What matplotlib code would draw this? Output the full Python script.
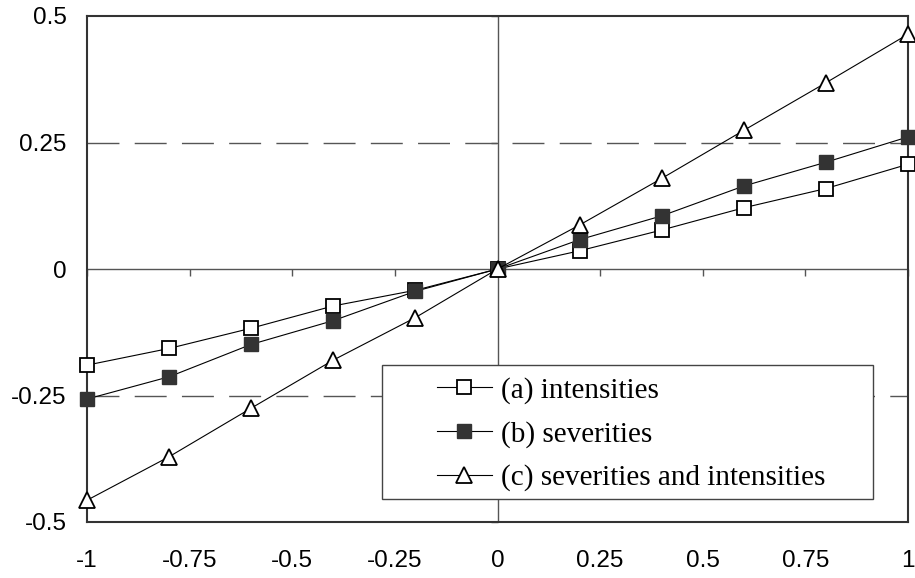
import matplotlib.pyplot as plt
from matplotlib.patches import Rectangle
import numpy as np

plt.rcParams['axes.unicode_minus'] = False

x = [-1, -0.8, -0.6, -0.4, -0.2, 0, 0.2, 0.4, 0.6, 0.8, 1]
intensities = [-0.190, -0.157, -0.117, -0.073, -0.042, 0, 0.036, 0.077, 0.121, 0.159, 0.207]
severities = [-0.257, -0.213, -0.149, -0.102, -0.044, 0, 0.058, 0.105, 0.164, 0.211, 0.261]
both = [-0.457, -0.371, -0.275, -0.180, -0.096, 0, 0.087, 0.179, 0.274, 0.368, 0.464]
labels = ["(a) intensities", "(b) severities", "(c) severities and intensities"]

xticks = [-1, -0.75, -0.5, -0.25, 0, 0.25, 0.5, 0.75, 1]
xtick_labels = ['-1', '-0.75', '-0.5', '-0.25', '0', '0.25', '0.5', '0.75', '1']
yticks = [-0.5, -0.25, 0, 0.25, 0.5]
ytick_labels = ['-0.5', '-0.25', '0', '0.25', '0.5']

fig = plt.figure(figsize=(9.15, 5.78), dpi=100)
ax = fig.add_axes([87/915, 1-522/578, 821/915, 506/578])

ax.set_xlim(-1, 1)
ax.set_ylim(-0.5, 0.5)

# dashed lines at +-0.25, solid axis lines through zero
for yv in [0.25, -0.25]:
    ax.axhline(yv, color='#555555', lw=1, dashes=(23, 11), zorder=1)
ax.axhline(0, color='#555555', lw=1, zorder=1)
ax.axvline(0, color='#555555', lw=1, zorder=1)
# small tick marks on the zero lines
ax.plot(xticks, np.zeros(len(xticks)), ls='none', marker=3, ms=5,
        mew=1, color='#555555', zorder=1, clip_on=False)
ax.plot(np.zeros(len(yticks)), yticks, ls='none', marker=0, ms=5,
        mew=1, color='#555555', zorder=1, clip_on=False)

ax.plot(x, intensities, color='black', lw=0.8, marker='s', ms=9.5,
        mfc='white', mec='black', mew=1.3, label=labels[0], zorder=3, clip_on=False)
ax.plot(x, severities, color='black', lw=0.8, marker='s', ms=10,
        mfc='#333333', mec='#333333', mew=1, label=labels[1], zorder=4, clip_on=False)
ax.plot(x, both, color='black', lw=0.8, marker='^', ms=11,
        mfc='white', mec='black', mew=1.3, label=labels[2], zorder=5, clip_on=False)

ax.set_xticks(xticks)
ax.set_xticklabels(xtick_labels, family='Liberation Sans', fontsize=17.5)
ax.set_yticks(yticks)
ax.set_yticklabels(ytick_labels, family='Liberation Sans', fontsize=17.5)
ax.tick_params(axis='x', length=0, pad=20)
ax.tick_params(axis='y', length=0, pad=14.5)

for s in ax.spines.values():
    s.set_color('#333333')
    s.set_linewidth(1.5)

# legend box drawn separately (wide left margin like the original)
box = Rectangle((0.359, 0.045), 0.598, 0.265, transform=ax.transAxes,
                facecolor='white', edgecolor='#444444', lw=1, zorder=5.5)
ax.add_patch(box)
leg = ax.legend(loc='upper left', bbox_to_anchor=(0.426, 0.287),
                prop={'family': 'Liberation Serif', 'size': 21},
                frameon=False, handlelength=1.9, handletextpad=0.31,
                labelspacing=0.58, borderpad=0, borderaxespad=0)
leg.set_zorder(6)

plt.savefig('out.png', dpi=100)
